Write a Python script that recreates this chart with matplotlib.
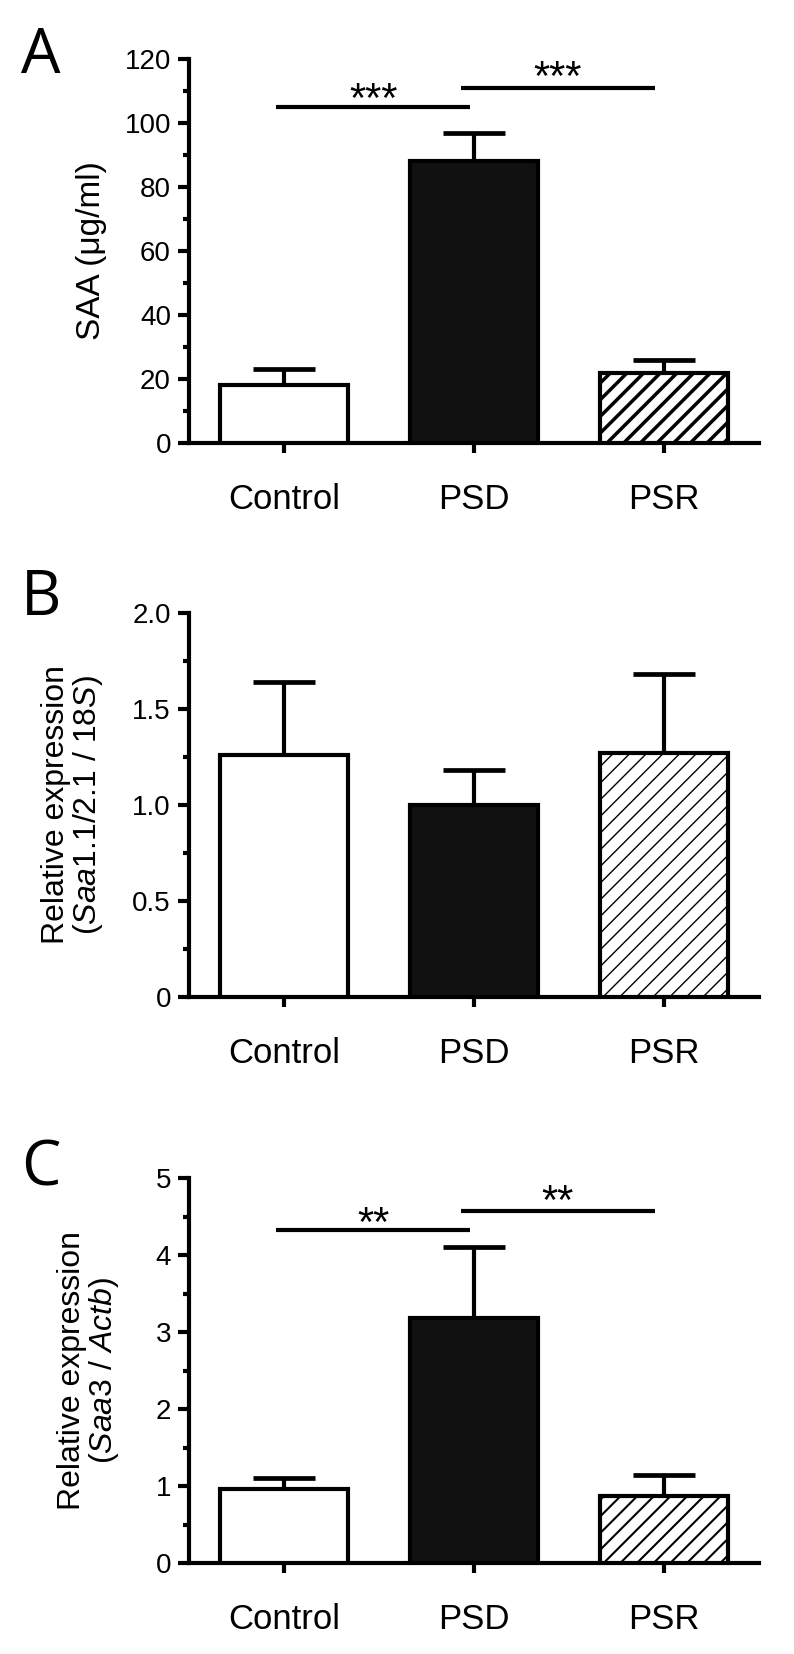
import numpy as np
import matplotlib.pyplot as plt
from matplotlib.ticker import MultipleLocator

plt.rcParams['font.family'] = ['Liberation Sans', 'DejaVu Sans']
plt.rcParams['mathtext.fontset'] = 'custom'
plt.rcParams['mathtext.rm'] = 'Liberation Sans'
plt.rcParams['mathtext.it'] = 'Liberation Sans:italic'

groups = ['Control', 'PSD', 'PSR']

# panel A: serum SAA (ug/ml)
saa_mean = [18, 88, 22]
saa_err = [5, 9, 4]

# panel B: Saa1.1/2.1 expression
saa12_mean = [1.26, 1.0, 1.27]
saa12_err = [0.38, 0.18, 0.41]
saa12_ticks = ['0', '0.5', '1.0', '1.5', '2.0']

# panel C: Saa3 expression
saa3_mean = [0.96, 3.18, 0.87]
saa3_err = [0.15, 0.92, 0.27]

fills = ['white', '#111111', 'white']
hatches = [None, None, '//']

fig = plt.figure(figsize=(7.94, 16.54), dpi=100)
W, H = 794.0, 1654.0
LW = 3.0


def panel(top, bottom, mean, err, ymax, major, minor, ylabel, lab_size, label_x,
          hatch_lw, letter, letter_base, sig=None):
    ax = fig.add_axes([189 / W, 1 - bottom / H, 570 / W, (bottom - top) / H])
    x = np.arange(len(groups))
    for i in range(len(groups)):
        plt.rcParams['hatch.linewidth'] = hatch_lw
        b = ax.bar(x[i], mean[i], width=0.67, color=fills[i], edgecolor='black',
                   linewidth=LW, hatch=hatches[i], zorder=3)
        for p in b:
            if hasattr(p, 'set_hatch_linewidth'):
                p.set_hatch_linewidth(hatch_lw)
    ax.errorbar(x, mean, yerr=[np.zeros(len(err)), err], fmt='none',
                ecolor='black', elinewidth=LW, capsize=22.5, capthick=3.4, zorder=2)
    ax.set_xlim(-0.5, 2.5)
    ax.set_ylim(0, ymax)
    ax.set_xticks(x)
    ax.set_xticklabels(groups, fontsize=25)
    ax.yaxis.set_major_locator(MultipleLocator(major))
    ax.yaxis.set_minor_locator(MultipleLocator(minor))
    for s in ['top', 'right']:
        ax.spines[s].set_visible(False)
    for s in ['left', 'bottom']:
        ax.spines[s].set_linewidth(LW)
    ax.tick_params(axis='x', length=7.5, width=LW, pad=21)
    ax.tick_params(axis='y', which='major', length=8, width=LW, pad=5, labelsize=20)
    ax.tick_params(axis='y', which='minor', length=4.5, width=LW)
    ax.set_ylabel(ylabel, fontsize=lab_size, linespacing=1.0)
    ax.yaxis.set_label_coords(label_x, 0.5)
    if sig is not None:
        for (x0, x1, y, ys, stars) in sig:
            ax.plot([x0, x1], [y, y], color='black', lw=LW, clip_on=False,
                    solid_capstyle='butt')
            ax.annotate(stars, ((x0 + x1) / 2, ys), xytext=(0, -17),
                        textcoords='offset points', ha='center', va='baseline',
                        fontsize=30, annotation_clip=False)
    fig.text(21 / W, 1 - letter_base / H, letter, fontsize=45, family='Open Sans',
             ha='left', va='baseline')
    return ax


axA = panel(59, 443, saa_mean, saa_err, 120, 20, 10, 'SAA (μg/ml)', 24,
            -0.144, 2.5, 'A', 73,
            sig=[(-0.04, 0.98, 105.1, 110.9, '***'), (0.93, 1.95, 110.8, 117.6, '***')])

axB = panel(613, 997, saa12_mean, saa12_err, 2.0, 0.5, 0.25,
            'Relative expression\n($\\mathit{Saa1.1/2.1}$ / $\\mathit{18S}$)', 23,
            -0.148, 1.0, 'B', 615)
axB.set_yticks([0, 0.5, 1.0, 1.5, 2.0])
axB.set_yticklabels(saa12_ticks)

axC = panel(1178, 1563, saa3_mean, saa3_err, 5, 1, 0.5,
            'Relative expression\n($\\mathit{Saa3}$ / $\\mathit{Actb}$)', 23,
            -0.12, 1.5, 'C', 1186,
            sig=[(-0.04, 0.98, 4.32, 4.55, '**'), (0.93, 1.95, 4.57, 4.84, '**')])

fig.savefig('out.png', dpi=100, facecolor='white')
